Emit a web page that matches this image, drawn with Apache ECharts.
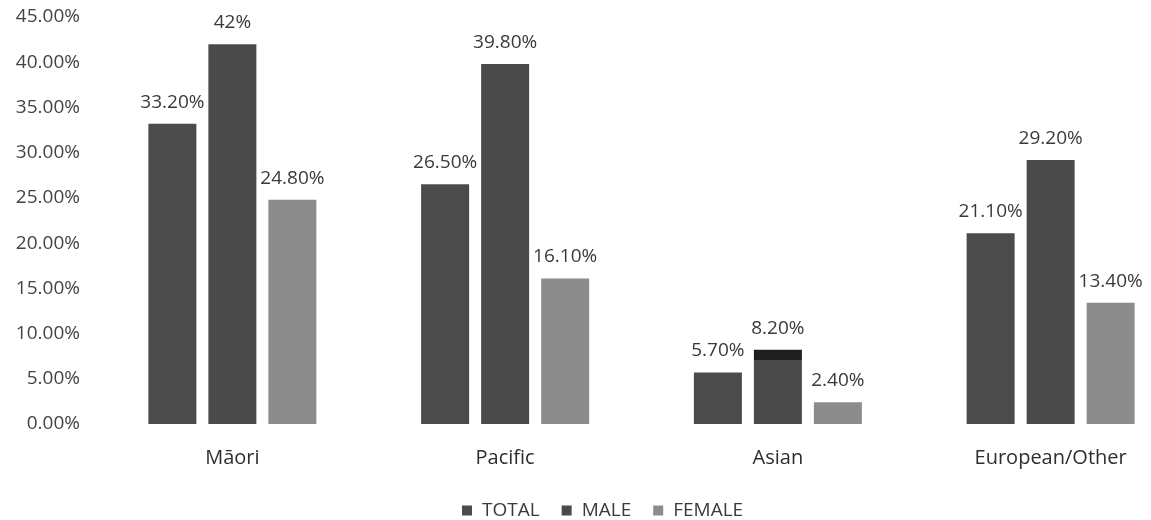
<!DOCTYPE html>
<html>
<head>
<meta charset="utf-8">
<script src="https://cdn.jsdelivr.net/npm/echarts@6/dist/echarts.min.js"></script>
<style>
  html, body { margin: 0; padding: 0; background: #ffffff; }
  #chart { width: 1151px; height: 520px; }
</style>
</head>
<body>
<div id="chart"></div>
<script>
// Ethnic groups along the x axis
const categories = ['Māori', 'Pacific', 'Asian', 'European/Other'];
// Percentages per group
const totalValues = [33.2, 26.5, 5.7, 21.1];
const maleValues = [42, 39.8, 8.2, 29.2];
const femaleValues = [24.8, 16.1, 2.4, 13.4];
const seriesNames = ['TOTAL', 'MALE', 'FEMALE'];

const FONT = '"Open Sans", Lato, sans-serif';

function pct(v) {
  return Number.isInteger(v) ? v + '%' : v.toFixed(2) + '%';
}

const labelStyle = {
  show: true,
  position: 'top',
  distance: 12,
  color: '#3a3a3a',
  fontFamily: FONT,
  fontSize: 19,
  formatter: p => pct(p.value)
};

// Male Asian bar carries a darker cap band
const maleData = maleValues.map((v, i) => {
  if (categories[i] !== 'Asian') return v;
  return {
    value: v,
    itemStyle: {
      color: {
        type: 'linear', x: 0, y: 0, x2: 0, y2: 1,
        colorStops: [
          { offset: 0, color: '#1e1e1e' },
          { offset: 0.14, color: '#1e1e1e' },
          { offset: 0.14, color: '#4a4a4a' },
          { offset: 1, color: '#4a4a4a' }
        ]
      }
    }
  };
});

const chart = echarts.init(document.getElementById('chart'));
chart.setOption({
  backgroundColor: '#ffffff',
  animation: false,
  grid: { left: 96, top: 17, width: 1091, bottom: 96, containLabel: false, outerBoundsMode: 'none' },
  legend: {
    data: seriesNames,
    top: 496,
    left: 457,
    itemWidth: 10,
    itemHeight: 10,
    itemGap: 22,
    icon: 'rect',
    textStyle: { color: '#3a3a3a', fontFamily: FONT, fontSize: 19, padding: [0, 0, 0, 5] }
  },
  xAxis: {
    type: 'category',
    data: categories,
    axisLine: { show: false },
    axisTick: { show: false },
    axisLabel: { color: '#2e2e2e', fontFamily: FONT, fontSize: 20, margin: 24 }
  },
  yAxis: {
    type: 'value',
    min: 0,
    max: 45,
    interval: 5,
    axisLine: { show: false },
    axisTick: { show: false },
    splitLine: { show: false },
    axisLabel: {
      color: '#444444',
      fontFamily: FONT,
      fontSize: 19,
      margin: 16,
      formatter: v => v.toFixed(2) + '%'
    }
  },
  series: [
    {
      name: seriesNames[0], type: 'bar', data: totalValues,
      barWidth: 48, barGap: '25%',
      itemStyle: { color: '#4b4b4b' },
      label: labelStyle
    },
    {
      name: seriesNames[1], type: 'bar', data: maleData,
      barWidth: 48, barGap: '25%',
      itemStyle: { color: '#4a4a4a' },
      label: labelStyle
    },
    {
      name: seriesNames[2], type: 'bar', data: femaleValues,
      barWidth: 48, barGap: '25%',
      itemStyle: { color: '#8c8c8c' },
      label: labelStyle
    }
  ]
});
</script>
</body>
</html>
